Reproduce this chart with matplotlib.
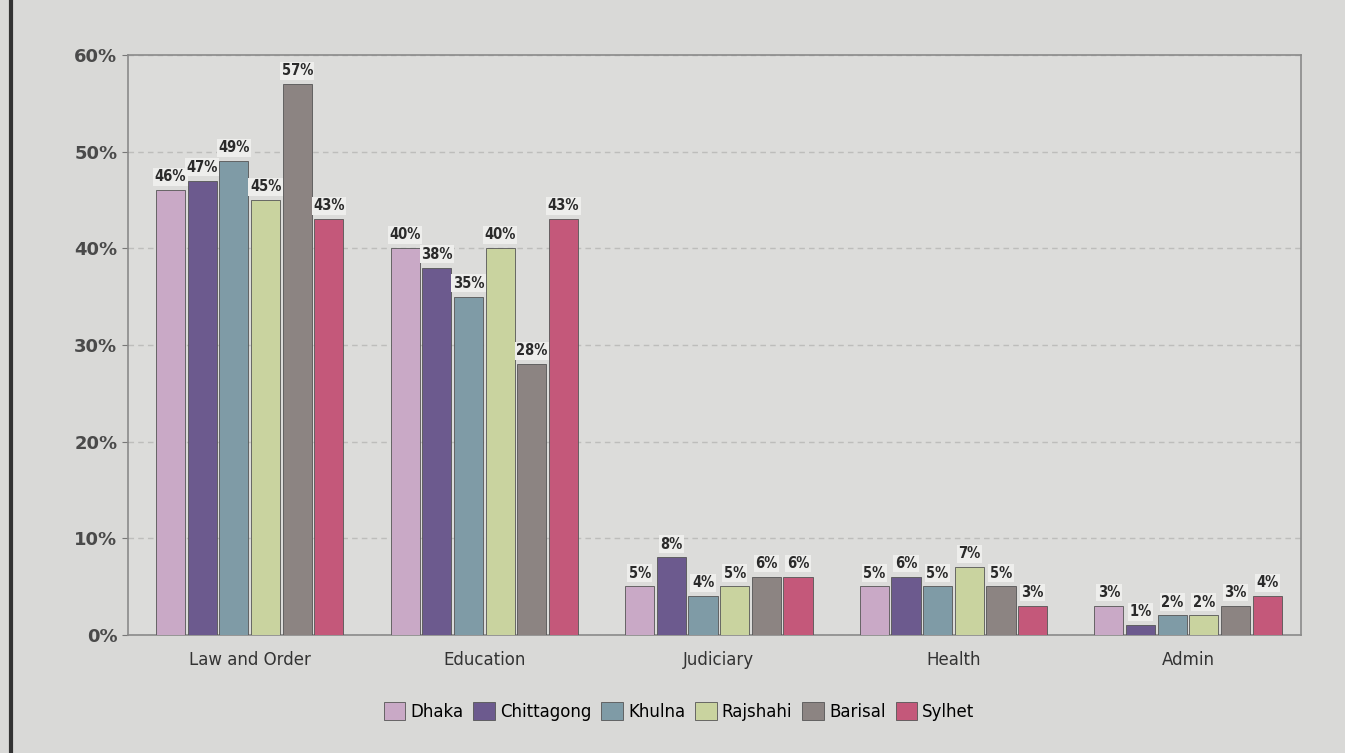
import numpy as np
import matplotlib.pyplot as plt

# categories and series (percent)
categories = ["Law and Order", "Education", "Judiciary", "Health", "Admin"]
regions = ["Dhaka", "Chittagong", "Khulna", "Rajshahi", "Barisal", "Sylhet"]
dhaka = [46, 40, 5, 5, 3]
chittagong = [47, 38, 8, 6, 1]
khulna = [49, 35, 4, 5, 2]
rajshahi = [45, 40, 5, 7, 2]
barisal = [57, 28, 6, 5, 3]
sylhet = [43, 43, 6, 3, 4]
series = [dhaka, chittagong, khulna, rajshahi, barisal, sylhet]
colors = ["#c9a9c6", "#6c5a8e", "#7f9ba6", "#c9d39f", "#8c8482", "#c4587a"]

fig = plt.figure(figsize=(13.45, 7.53), dpi=100)
fig.patch.set_facecolor("#d9d9d7")
ax = fig.add_axes([0.095, 0.157, 0.872, 0.77])
ax.set_facecolor("#dcdcda")

x = np.arange(len(categories))
width = 0.135
for i, (name, vals) in enumerate(zip(regions, series)):
    pos = x + (i - 2.5) * width
    bars = ax.bar(pos, vals, width * 0.92, color=colors[i], edgecolor="#555555",
                  linewidth=0.6, label=name, zorder=3)
    for b, v in zip(bars, vals):
        ax.text(b.get_x() + b.get_width() / 2, v + 0.6, f"{v}%",
                ha="center", va="bottom", fontsize=10.5, fontweight="bold",
                fontstretch="condensed", color="#2a2a2a", zorder=4,
                bbox=dict(boxstyle="square,pad=0.1", fc="#eeeeec", ec="none"))

ax.set_ylim(0, 60)
ax.set_xlim(-0.52, 4.48)
ax.set_yticks(range(0, 61, 10))
ax.set_yticklabels([f"{t}%" for t in range(0, 61, 10)], fontsize=13,
                   fontweight="bold", color="#4a4a4a")
ax.set_xticks(x)
ax.set_xticklabels(categories, fontsize=12, color="#333333")
ax.tick_params(axis="x", length=0, pad=12)
ax.tick_params(axis="y", length=4, color="#777777")
ax.yaxis.grid(True, linestyle=(0, (4, 3)), color="#bdbdbb", linewidth=1, zorder=0)
for s in ax.spines.values():
    s.set_color("#8a8a8a")
    s.set_linewidth(1.2)

ax.legend(loc="upper center", bbox_to_anchor=(0.47, -0.09), ncol=6,
          frameon=False, handlelength=1.3, handleheight=1.3,
          columnspacing=0.6, handletextpad=0.3, prop={"size": 12})

# photo border on the left
fig.add_artist(plt.Line2D([0.008, 0.008], [0, 1], color="#333333", linewidth=3))

fig.savefig("out.png", dpi=100, facecolor=fig.get_facecolor())
